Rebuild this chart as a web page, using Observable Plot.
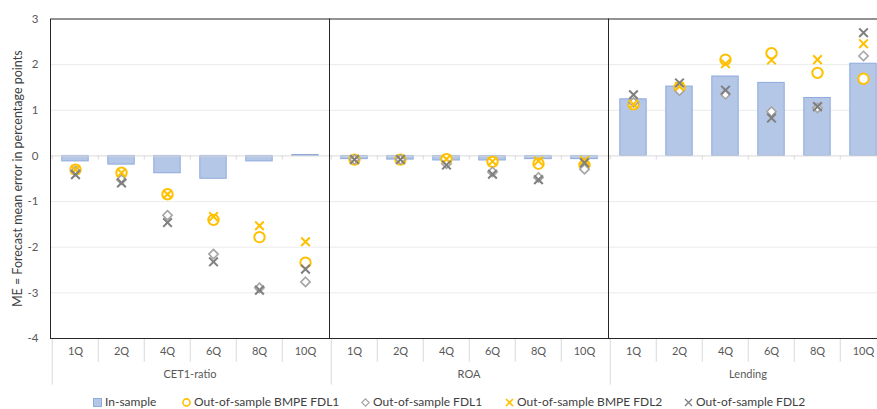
<!DOCTYPE html>
<html><head><meta charset="utf-8">
<script src="https://cdn.jsdelivr.net/npm/d3@7"></script>
<script src="https://cdn.jsdelivr.net/npm/@observablehq/plot@0.6"></script>
<style>
body{margin:0;background:#fff;font-family:Lato, sans-serif;}
#chart{position:relative;width:877px;height:409px;overflow:hidden;background:#fff;}
#plot svg{display:block;}
#legend{position:absolute;top:395px;left:0;width:877px;height:14px;font-size:12px;line-height:14px;color:#404040;}
.item{position:absolute;top:0;height:14px;display:flex;align-items:center;white-space:nowrap;}
.item svg{margin-right:3px;}
</style></head><body>
<div id="chart"><div id="plot"></div><div id="legend"></div></div>
<script>
const groups = ["CET1-ratio", "ROA", "Lending"];
const horizons = ["1Q", "2Q", "4Q", "6Q", "8Q", "10Q"];
const yTicks = [-4, -3, -2, -1, 0, 1, 2, 3];
const yTitle = "ME = Forecast mean error in percentage points";
const seriesNames = ["In-sample", "Out-of-sample BMPE FDL1", "Out-of-sample FDL1", "Out-of-sample BMPE FDL2", "Out-of-sample FDL2"];

// values per group: CET1-ratio (6), ROA (6), Lending (6)
const inSample = [-0.12, -0.19, -0.38, -0.50, -0.12, 0.02,  -0.07, -0.08, -0.10, -0.10, -0.07, -0.07,  1.24, 1.52, 1.74, 1.60, 1.27, 2.02];
const bmpeFdl1 = [-0.30, -0.37, -0.84, -1.40, -1.78, -2.34,  -0.08, -0.08, -0.07, -0.13, -0.17, -0.20,  1.13, 1.50, 2.11, 2.25, 1.82, 1.69];
const fdl1     = [-0.33, -0.52, -1.30, -2.15, -2.89, -2.76,  -0.08, -0.08, -0.17, -0.35, -0.47, -0.29,  1.17, 1.43, 1.35, 0.97, 1.05, 2.19];
const bmpeFdl2 = [-0.30, -0.37, -0.84, -1.33, -1.53, -1.88,  -0.08, -0.08, -0.07, -0.12, -0.11, -0.10,  1.13, 1.52, 2.02, 2.10, 2.11, 2.46];
const fdl2     = [-0.41, -0.59, -1.46, -2.32, -2.94, -2.48,  -0.08, -0.08, -0.20, -0.40, -0.52, -0.15,  1.34, 1.60, 1.44, 0.83, 1.08, 2.70];

const rows = [];
groups.forEach((g, gi) => horizons.forEach((h, hi) => {
  const i = gi * horizons.length + hi;
  rows.push({group: g, horizon: h, inSample: inSample[i], bmpeFdl1: bmpeFdl1[i], fdl1: fdl1[i], bmpeFdl2: bmpeFdl2[i], fdl2: fdl2[i]});
}));
const seps = groups.flatMap(g => horizons.map(h => ({group: g, horizon: h, first: h === horizons[0]})));

const W = 877, H = 392, ML = 50, MR = -10;
const step = (W - MR - ML) / (groups.length * horizons.length);
const YELLOW = "#FFC000", DGRAY = "#7F7F7F", LGRAY = "#A5A5A5";

const plot = Plot.plot({
  width: W, height: H,
  marginLeft: ML, marginRight: MR, marginTop: 18.5, marginBottom: 54,
  style: {fontFamily: "Lato, sans-serif", fontSize: "11px", color: "#595959", background: "white"},
  fx: {domain: groups, padding: 0, axis: null},
  x: {domain: horizons, padding: 0, axis: null},
  y: {domain: [-4, 3], axis: null},
  marks: [
    Plot.ruleY([-3, -2, -1, 1, 2], {stroke: "#EBEBEB"}),
    Plot.barY(rows, {fx: "group", x: "horizon", y: "inSample", fill: "#B4C7E7", stroke: "#8FAADC", strokeWidth: 1, insetLeft: 9.8, insetRight: 9.8}),
    Plot.ruleY([0], {stroke: "#D9D9D9"}),
    Plot.ruleX(seps, {fx: "group", x: "horizon", dx: -step / 2, y1: 0, y2: -0.09, stroke: "#D9D9D9"}),
    Plot.ruleX(seps, {fx: "group", x: "horizon", dx: -step / 2, y1: -4, y2: d => d.first ? -5.02 : -4.52, stroke: "#D9D9D9"}),
    Plot.frame({stroke: "#262626"}),
    Plot.dot(rows, {fx: "group", x: "horizon", y: "bmpeFdl1", symbol: "circle", r: 5.2, stroke: YELLOW, strokeWidth: 2, fill: "white"}),
    Plot.dot(rows, {fx: "group", x: "horizon", y: "fdl1", symbol: "diamond2", r: 4.2, stroke: LGRAY, strokeWidth: 1.6, fill: "white"}),
    Plot.dot(rows, {fx: "group", x: "horizon", y: "bmpeFdl2", symbol: "times", r: 4, stroke: YELLOW, strokeWidth: 2}),
    Plot.dot(rows, {fx: "group", x: "horizon", y: "fdl2", symbol: "times", r: 4, stroke: DGRAY, strokeWidth: 2}),
    Plot.text(yTicks, {fx: () => groups[0], y: d => d, text: d => String(d), frameAnchor: "left", dx: -12, textAnchor: "end", fontSize: 11.5, fill: "#595959"}),
    Plot.text(horizons, {x: d => d, frameAnchor: "bottom", dy: 16, text: d => d, fontSize: 11, fill: "#595959"}),
    Plot.text(groups, {fx: d => d, frameAnchor: "bottom", dy: 39.5, text: d => d, fontSize: 11, fill: "#595959"}),
    Plot.text([yTitle], {fx: () => groups[0], frameAnchor: "left", textAnchor: "middle", rotate: -90, dx: -33, text: d => d, fontSize: 12.5, fill: "#404040"})
  ]
});
document.getElementById("plot").appendChild(plot);

// legend
const icons = [
  `<svg width="9" height="9"><rect x="0.5" y="0.5" width="8" height="8" fill="#B4C7E7" stroke="#8FAADC"/></svg>`,
  `<svg width="9" height="9"><circle cx="4.5" cy="4.5" r="3.6" fill="white" stroke="${YELLOW}" stroke-width="1.6"/></svg>`,
  `<svg width="9" height="9"><path d="M4.5 0.8L8.2 4.5L4.5 8.2L0.8 4.5Z" fill="white" stroke="${LGRAY}" stroke-width="1.2"/></svg>`,
  `<svg width="9" height="9"><path d="M1 1L8 8M8 1L1 8" stroke="${YELLOW}" stroke-width="1.7"/></svg>`,
  `<svg width="9" height="9"><path d="M1 1L8 8M8 1L1 8" stroke="${DGRAY}" stroke-width="1.4"/></svg>`
];
const lefts = [93, 182, 361, 505, 684];
const legend = document.getElementById("legend");
seriesNames.forEach((name, i) => {
  const d = document.createElement("div");
  d.className = "item";
  d.style.left = lefts[i] + "px";
  d.innerHTML = icons[i] + `<span>${name}</span>`;
  legend.appendChild(d);
});
</script>
</body></html>
